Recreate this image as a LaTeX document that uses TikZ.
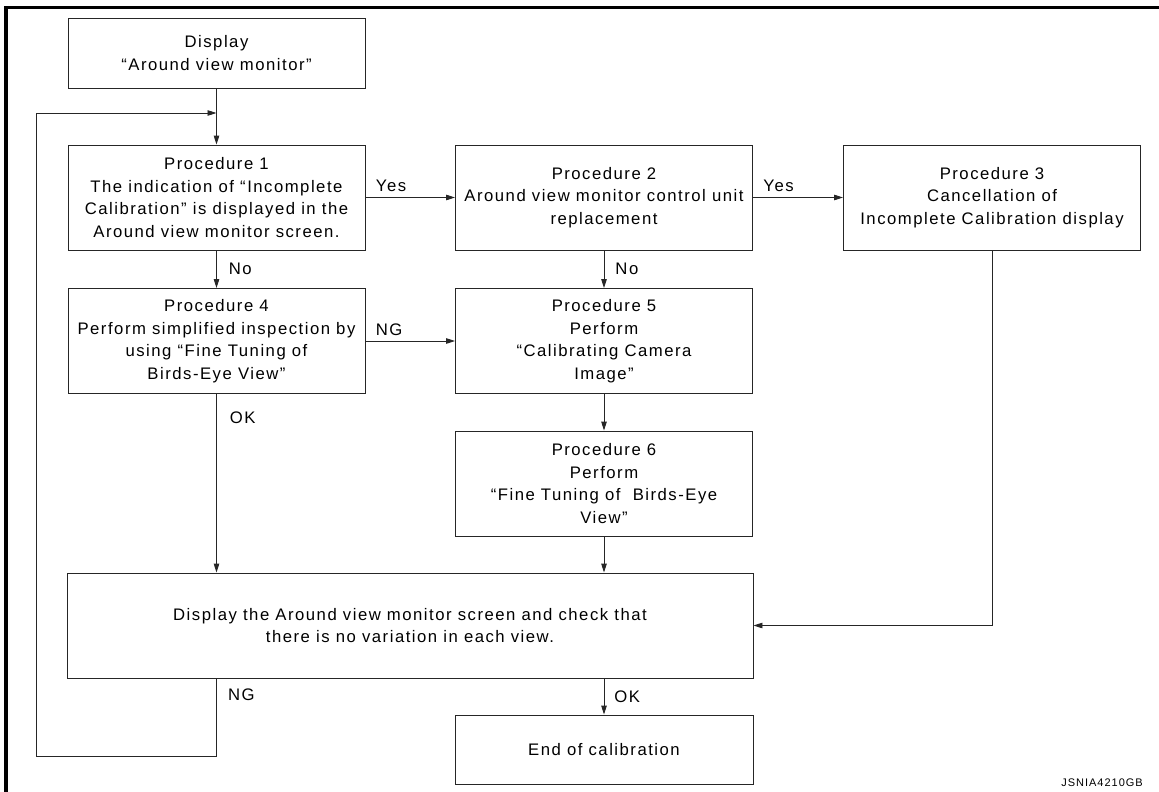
\documentclass[tikz,border=0pt]{standalone}
\usepackage{fontspec}
\setmainfont{Liberation Sans}[LetterSpace=9]
\usetikzlibrary{arrows.meta}
\begin{document}
\begin{tikzpicture}[x=1pt,y=-1pt,
  box/.style={draw=black!85, line width=0.9pt, rectangle, align=center, inner sep=0pt,
    font=\fontsize{16.7}{22.6}\selectfont},
  wbox/.style={box, minimum width=297pt, minimum height=105pt},
  lbl/.style={font=\fontsize{16.7}{20}\selectfont, inner sep=0pt},
  conn/.style={draw=black!85, line width=0.9pt},
  arr/.style={conn, -{Triangle[length=9pt,width=5.5pt]}}
]
\useasboundingbox (0,0) rectangle (1159,792);
% frame
\draw[line width=3.2pt] (6,792) -- (6,7.5) -- (1159,7.5);

% nodes
\node[box, minimum width=297pt, minimum height=70pt] (disp) at (216.5,53) {Display\\``Around view monitor''};
\node[wbox] (p1) at (216.5,197.5) {Procedure 1\\The indication of ``Incomplete\\Calibration'' is displayed in the\\Around view monitor screen.};
\node[wbox] (p2) at (604,197.5) {Procedure 2\\Around view monitor control unit\\replacement};
\node[wbox] (p3) at (992,197.5) {Procedure 3\\Cancellation of\\Incomplete Calibration display};
\node[wbox] (p4) at (216.5,341) {Procedure 4\\Perform simplified inspection by\\using ``Fine Tuning of\\Birds-Eye View''};
\node[wbox] (p5) at (604,341) {Procedure 5\\Perform\\``Calibrating Camera\\Image''};
\node[wbox] (p6) at (604,483.5) {Procedure 6\\Perform\\``Fine Tuning of~~Birds-Eye\\View''};
\node[box, minimum width=686pt, minimum height=105pt] (chk) at (410,625.5) {Display the Around view monitor screen and check that\\there is no variation in each view.};
\node[box, minimum width=298pt, minimum height=69pt] (fin) at (604,749.5) {End of calibration};
\node[font=\fontsize{11}{13}\selectfont, anchor=base east, inner sep=0pt] (code) at (1143,786) {JSNIA4210GB};

% loop coordinates
\coordinate (lb1) at (216.5,756);
\coordinate (lb2) at (36,756);
\coordinate (lb3) at (36,113);
\coordinate (lb4) at (216.5,113);

% connectors
\draw[arr] (disp.south) -- (p1.north);
\draw[arr] (chk.south -| p1.south) -- (lb1) -- (lb2) -- (lb3) -- (lb4);
\draw[arr] (p1.east) -- node[lbl, pos=0, anchor=south west, xshift=10pt, yshift=5pt] {Yes} (p2.west);
\draw[arr] (p2.east) -- node[lbl, pos=0, anchor=south west, xshift=10pt, yshift=5pt] {Yes} (p3.west);
\draw[arr] (p1.south) -- node[lbl, midway, anchor=west, xshift=12pt] {No} (p4.north);
\draw[arr] (p2.south) -- node[lbl, midway, anchor=west, xshift=11pt] {No} (p5.north);
\draw[arr] (p4.east) -- node[lbl, pos=0, anchor=south west, xshift=10pt, yshift=5pt] {NG} (p5.west);
\draw[arr] (p4.south) -- node[lbl, pos=0.135, anchor=west, xshift=13pt] {OK} (chk.north -| p4.south);
\draw[arr] (p5.south) -- (p6.north);
\draw[arr] (p6.south) -- (chk.north -| p6.south);
\draw[arr] (p3.south) |- (chk.east);
\draw[arr] (chk.south -| fin.north) -- node[lbl, midway, anchor=west, xshift=10pt] {OK} (fin.north);
\node[lbl, anchor=west] (nglbl) at (228,695) {NG};
\end{tikzpicture}
\end{document}
